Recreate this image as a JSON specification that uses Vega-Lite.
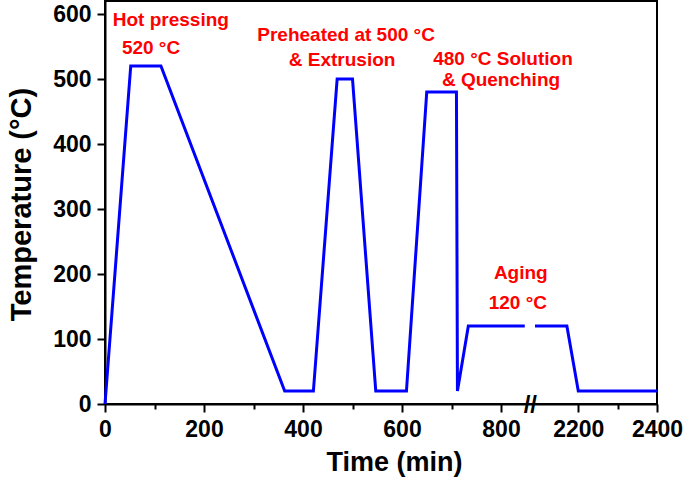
{
  "$schema": "https://vega.github.io/schema/vega-lite/v6.json",
  "width": 552,
  "height": 403,
  "autosize": {"type": "none"},
  "padding": {"left": 105, "top": 1, "right": 28, "bottom": 76},
  "background": "white",
  "config": {
    "view": {"stroke": "black", "strokeWidth": 2},
    "axis": {
      "domainColor": "black", "domainWidth": 2,
      "tickColor": "black", "tickWidth": 2,
      "labelFont": "Liberation Sans", "labelFontWeight": "bold", "labelFontSize": 23, "labelColor": "black",
      "titleFont": "Liberation Sans", "titleFontWeight": "bold", "titleColor": "black",
      "grid": false
    }
  },
  "datasets": {
    "profile": [
      {"time": 0, "temp": 0, "seg": "a"},
      {"time": 52, "temp": 520, "seg": "a"},
      {"time": 113, "temp": 520, "seg": "a"},
      {"time": 363, "temp": 20, "seg": "a"},
      {"time": 421, "temp": 20, "seg": "a"},
      {"time": 469, "temp": 500, "seg": "a"},
      {"time": 500, "temp": 500, "seg": "a"},
      {"time": 547, "temp": 20, "seg": "a"},
      {"time": 609, "temp": 20, "seg": "a"},
      {"time": 650, "temp": 480, "seg": "a"},
      {"time": 710, "temp": 480, "seg": "a"},
      {"time": 712, "temp": 20, "seg": "a"},
      {"time": 734, "temp": 120, "seg": "a"},
      {"time": 848, "temp": 120, "seg": "a"},
      {"time": 2090, "temp": 120, "seg": "b"},
      {"time": 2171, "temp": 120, "seg": "b"},
      {"time": 2200, "temp": 20, "seg": "b"},
      {"time": 2400, "temp": 20, "seg": "b"}
    ],
    "notes": [
      {"time": 133, "temp": 591, "text": "Hot pressing"},
      {"time": 93, "temp": 548, "text": "520 °C"},
      {"time": 487, "temp": 568, "text": "Preheated at 500 °C"},
      {"time": 479, "temp": 529, "text": "& Extrusion"},
      {"time": 804, "temp": 531, "text": "480 °C Solution"},
      {"time": 800, "temp": 498, "text": "& Quenching"},
      {"time": 840, "temp": 201, "text": "Aging"},
      {"time": 834, "temp": 155, "text": "120 °C"}
    ],
    "brk": [
      {"time": 1470, "temp": -3, "text": "//"}
    ]
  },
  "layer": [
    {
      "data": {"name": "profile"},
      "mark": {"type": "line", "color": "#0000ff", "strokeWidth": 3, "clip": false},
      "encoding": {
        "x": {
          "field": "time", "type": "quantitative",
          "scale": {"domain": [0, 850, 2090, 2400], "range": [0, 420.75, 430, 552], "nice": false, "zero": false},
          "axis": {
            "title": "Time (min)",
            "titleFontSize": 27,
            "titleX": 289, "titleY": 58, "titleAlign": "center", "titleBaseline": "middle",
            "values": [0, 100, 200, 300, 400, 500, 600, 700, 800, 2200, 2300, 2400],
            "labelExpr": "(datum.value % 200 == 0) ? datum.value : ''",
            "tickSize": {"condition": {"test": "datum.value % 200 == 0", "value": 8}, "value": 5},
            "labelPadding": 6,
            "labelFlush": false,
            "labelOverlap": false
          }
        },
        "y": {
          "field": "temp", "type": "quantitative",
          "scale": {"domain": [0, 620], "nice": false, "zero": false},
          "axis": {
            "title": "Temperature (°C)",
            "titleFontSize": 29,
            "titleX": -84, "titleY": 203, "titleAngle": -90, "titleAlign": "center", "titleBaseline": "middle",
            "values": [0, 50, 100, 150, 200, 250, 300, 350, 400, 450, 500, 550, 600],
            "labelExpr": "(datum.value % 100 == 0) ? datum.value : ''",
            "tickSize": {"condition": {"test": "datum.value % 100 == 0", "value": 8}, "value": 5},
            "labelPadding": 6,
            "labelOverlap": false
          }
        },
        "detail": {"field": "seg"}
      }
    },
    {
      "data": {"name": "notes"},
      "mark": {"type": "text", "color": "#ff0000", "font": "Liberation Sans", "fontWeight": "bold", "fontSize": 19, "align": "center", "baseline": "middle"},
      "encoding": {
        "x": {"field": "time", "type": "quantitative"},
        "y": {"field": "temp", "type": "quantitative"},
        "text": {"field": "text"}
      }
    },
    {
      "data": {"name": "brk"},
      "mark": {"type": "text", "color": "black", "font": "Liberation Sans", "fontWeight": "bold", "fontSize": 24, "align": "center", "baseline": "middle", "clip": false},
      "encoding": {
        "x": {"field": "time", "type": "quantitative"},
        "y": {"field": "temp", "type": "quantitative"},
        "text": {"field": "text"}
      }
    }
  ]
}
